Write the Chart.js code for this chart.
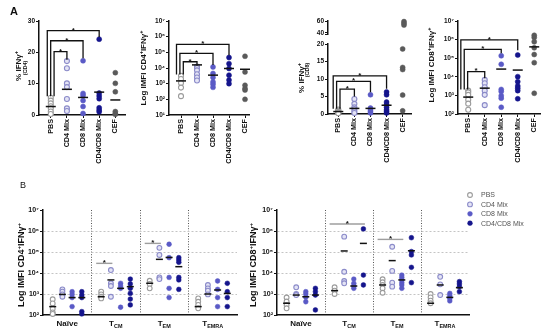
<!DOCTYPE html>
<html>
<head>
<meta charset="utf-8">
<script src="https://cdn.jsdelivr.net/npm/chart.js"></script>
<style>
html,body{margin:0;padding:0;background:#fff}
body{width:550px;height:333px;position:relative;overflow:hidden}
canvas{position:absolute;display:block}
</style>
</head>
<body>
<canvas id="cA1" width="132" height="170" style="left:0px;top:0px"></canvas>
<canvas id="cA2" width="140" height="170" style="left:132px;top:0px"></canvas>
<canvas id="cA3" width="146" height="170" style="left:272px;top:0px"></canvas>
<canvas id="cA3top" width="146" height="40" style="left:272px;top:0px"></canvas>
<canvas id="cA4" width="132" height="170" style="left:418px;top:0px"></canvas>
<canvas id="cB1" width="242" height="155" style="left:0px;top:178px"></canvas>
<canvas id="cB2" width="308" height="148" style="left:242px;top:185px"></canvas>
<script>
// ---------------- DATA ----------------
const catsA = ['PBS', 'CD4 Mix', 'CD8 Mix', 'CD4/CD8 Mix', 'CEF'];

// A1: % IFNγ+ (CD4)
const a1PBS = [5.5, 4.6, 3.7, 2.8, 2.1, 1.1, 0.3];
const a1CD4 = [17.2, 14.9, 10.1, 8.9, 5.1, 2.1, 1.3];
const a1CD8 = [17.3, 6.9, 6.2, 4.6, 2.7, 0.5];
const a1Mix = [24.2, 7.0, 6.1, 5.2, 2.3, 1.6, 1.0];
const a1CEF = [13.5, 10.1, 7.4, 1.1, 0.5, 0.2];
const a1Mean = [2.7, 8.2, 5.6, 7.3, 4.8];
const a1Ticks = [0, 10, 20, 30];
const a1TickLabels = ['0', '10', '20', '30'];
const a1Sig = [[0, 1, 20.2, 17.6], [0, 2, 23.7, 18.1], [0, 3, 26.9, 24.9]];

// A2: Log IMFI CD4+IFNγ+
const a2PBS = [3200, 2000, 1100, 560, 160];
const a2CD4 = [12600, 10000, 7100, 4000, 2500, 1600];
const a2CD8 = [11700, 4500, 2500, 1300, 930, 580];
const a2Mix = [46800, 19000, 9300, 3500, 1700, 1000];
const a2CEF = [56000, 5600, 790, 490, 390, 100];
const a2Mean = [1500, 15800, 3500, 9300, 8300];
const a2Ticks = [1e1, 1e2, 1e3, 1e4, 1e5, 1e6, 1e7];
const a2TickLabels = ['10¹', '10²', '10³', '10⁴', '10⁵', '10⁶', '10⁷'];
const a2Sig = [[0, 1, 25000, 14500], [0, 2, 87000, 15500], [0, 3, 324000, 65000]];

// A3: % IFNγ+ (CD8), broken axis
const a3PBS = [1.3, 1.0, 0.8, 0.6, 0.4, 0.2];
const a3CD4 = [4.3, 2.9, 1.9, 1.4, 0.8, 0.3];
const a3CD8 = [5.5, 1.7, 1.2, 0.75, 0.3];
const a3Mix = [6.3, 5.5, 3.4, 2.7, 1.9, 1.2, 0.75, 0.3];
const a3CEF = [59, 56, 53, 18.6, 13.3, 12.7, 5.4, 0.9];
const a3Mean = [0.7, 1.6, 1.6, 2.5, null];
const a3LowTicks = [0, 5, 10, 15, 20];
const a3LowTickLabels = ['0', '5', '10', '15', '20'];
const a3HighTicks = [37, 40, 60];
const a3HighTickLabels = ['', '40', '60'];
const a3Sig = [[0, 1, 7.1, 5.0], [0, 2, 9.3, 6.2], [0, 3, 10.9, 7.2]];

// A4: Log IMFI CD8+IFNγ+
const a4PBS = [1800, 1450, 1070, 590, 360, 170];
const a4CD4 = [6800, 4500, 2750, 1800, 1070, 300];
const a4CD8 = [135000, 47000, 2100, 1600, 950, 710, 230];
const a4Mix = [148000, 10200, 5500, 3200, 2450, 1800, 660];
const a4CEF = [1700000, 1290000, 760000, 363000, 158000, 57500, 1300];
const a4Mean = [810, 2450, 26000, 23000, 407000];
const a4Ticks = [1e2, 1e3, 1e4, 1e5, 1e6, 1e7];
const a4TickLabels = ['10²', '10³', '10⁴', '10⁵', '10⁶', '10⁷'];
const a4Sig = [[0, 1, 19000, 8300], [0, 2, 295000, 182000], [0, 3, 955000, 269000]];

// B: subsets
const bSeries = ['PBS', 'CD4 Mix', 'CD8 Mix', 'CD4/CD8 Mix'];
const bGroupLabels = [[['Naïve', '']], [['T', ''], ['CM', 'sub']], [['T', ''], ['EM', 'sub']], [['T', ''], ['EMRA', 'sub']]];
const bTicks = [1e2, 1e3, 1e4, 1e5, 1e6, 1e7];
const bTickLabels = ['10²', '10³', '10⁴', '10⁵', '10⁶', '10⁷'];

// B1: CD4
const b1PBS = [[560, 355, 200, 132, 112], [1290, 955, 740, 617], [4270, 3020, 1860], [617, 427, 302, 209]];
const b1CD4 = [[1660, 1290, 955, 740], [13800, 3240, 2400, 740], [158000, 72400, 6170, 5130], [2690, 1860, 1450, 955]];
const b1CD8 = [[1290, 955, 676, 251], [3240, 2400, 1860, 234], [234000, 53700, 6170, 1860, 676], [4170, 1660, 676, 251]];
const b1Mix = [[1290, 891, 676, 145, 112], [5130, 3020, 1860, 1070, 575, 302], [53700, 41700, 32400, 6170, 4680, 1660], [3240, 1290, 676, 251]];
const b1Means = [[251, 740, 3240, 251], [955, 4680, 44700, 1000], [676, 1860, 55000, 1550], [676, 2240, 20000, 1070]];
const b1Sig = [[1, 0, 1, 28800], [2, 0, 1, 257000]];

// B2: CD8
const b2PBS = [[676, 437, 302, 209], [2090, 1450, 1000], [5010, 3630, 2690, 1860, 1150], [1000, 692, 479, 363]];
const b2CD4 = [[2090, 1000, 891], [537000, 11500, 4170, 3240], [178000, 12600, 3470, 2240], [6610, 2880, 891]];
const b2CD8 = [[1290, 1000, 708, 427], [5130, 3240, 2400, 1860], [7940, 6170, 4680, 3470, 2690, 1860], [1070, 832, 631, 468]];
const b2Mix = [[1860, 1290, 891, 174], [1260000, 7940, 2690], [479000, 105000, 72400, 18600, 3470], [3890, 3020, 2240, 1290]];
const b2Means = [[363, 1450, 2690, 363], [891, 112000, 38900, 2690], [741, 2400, 4680, 692], [891, 257000, 115000, 2000]];
const b2Sig = [[1, 0, 3, 2140000], [2, 0, 2, 398000]];

// ---------------- STYLE / HELPERS ----------------
const FONT = '"Liberation Sans", Arial, Helvetica, sans-serif';
const INK = '#111111';
const STY = [
  {bg: '#ffffff', bd: '#9b9b9b'},
  {bg: '#e4e4f5', bd: '#8b8bc9'},
  {bg: '#5a5ac6', bd: '#5a5ac6'},
  {bg: '#15158c', bd: '#15158c'},
  {bg: '#5a5a5a', bd: '#5a5a5a'}
];
Chart.defaults.font.family = FONT;
Chart.defaults.color = INK;
Chart.defaults.animation = false;
Chart.defaults.events = [];
Chart.defaults.plugins.legend.display = false;
Chart.defaults.plugins.tooltip.enabled = false;

function pointsDS(label, pts, si, r, yID) {
  return {label, data: pts, backgroundColor: STY[si].bg, borderColor: STY[si].bd,
    borderWidth: si < 2 ? 1.1 : 0.5, pointRadius: r, pointHoverRadius: r, pointStyle: 'circle',
    showLine: false, clip: false, yAxisID: yID, order: 1};
}
function meanDS(pts, half, yID) {
  return {label: 'mean', data: pts, pointStyle: 'line', pointRadius: half, pointHoverRadius: half,
    borderColor: INK, backgroundColor: INK, borderWidth: 1.5, showLine: false, clip: false, yAxisID: yID, order: 0};
}
function colPts(vals, i) { return vals.map(v => ({x: i, y: v})); }

function drawRuns(ctx, runs, size, weight, color, align) {
  const parts = runs.map(r => {
    const t = r[0], kind = r[1] || '';
    const s = (kind === 'sup' || kind === 'sub') ? size * 0.68 : size;
    const dy = kind === 'sup' ? -size * 0.38 : (kind === 'sub' ? size * 0.24 : 0);
    ctx.font = weight + ' ' + s + 'px ' + FONT;
    return {t, s, dy, w: ctx.measureText(t).width};
  });
  const total = parts.reduce((a, p) => a + p.w, 0);
  let x = align === 'left' ? 0 : -total / 2;
  ctx.fillStyle = color; ctx.textBaseline = 'alphabetic'; ctx.textAlign = 'left';
  parts.forEach(p => {
    ctx.font = weight + ' ' + p.s + 'px ' + FONT;
    ctx.fillText(p.t, x, p.dy + size * 0.35);
    x += p.w;
  });
}
function star(ctx, x, y) {
  ctx.font = 'bold 8px ' + FONT; ctx.fillStyle = INK; ctx.textAlign = 'center'; ctx.textBaseline = 'alphabetic';
  ctx.fillText('*', x, y + 1.8);
}
function textsPlugin(items, ox, oy) {
  return {id: 'texts', afterDraw(chart) {
    const ctx = chart.ctx;
    items.forEach(it => {
      ctx.save();
      ctx.translate(it.x - ox, it.y - oy);
      if (it.rot) ctx.rotate(it.rot);
      drawRuns(ctx, it.runs, it.size, it.weight || 'bold', it.color || INK, it.align || 'center');
      ctx.restore();
    });
  }};
}
function bracketsPlugin(sig, base, yID, lead) {
  return {id: 'brackets', afterDatasetsDraw(chart) {
    const ctx = chart.ctx, xs = chart.scales.x, ys = chart.scales[yID];
    ctx.save();
    ctx.strokeStyle = INK; ctx.lineWidth = 1.3;
    sig.forEach((s, k) => {
      const x0 = xs.getPixelForValue(s[0]) + lead - 3.4 * k;
      const x1 = xs.getPixelForValue(s[1]);
      const y = ys.getPixelForValue(s[2]);
      ctx.beginPath();
      ctx.moveTo(x0, ys.getPixelForValue(base));
      ctx.lineTo(x0, y); ctx.lineTo(x1, y); ctx.lineTo(x1, ys.getPixelForValue(s[3]));
      ctx.stroke();
      star(ctx, (x0 + x1) / 2, y);
    });
    ctx.restore();
  }};
}
function sigPlugin(items) {
  return {id: 'sig', afterDatasetsDraw(chart) {
    const ctx = chart.ctx, xs = chart.scales.x, ys = chart.scales.y;
    ctx.save(); ctx.strokeStyle = '#9e9e9e'; ctx.lineWidth = 1.4;
    items.forEach(s => {
      const x0 = xs.getPixelForValue(s[0] * 5 + 1 + s[1]) - 5;
      const x1 = xs.getPixelForValue(s[0] * 5 + 1 + s[2]) + 1.5;
      const y = ys.getPixelForValue(s[3]);
      ctx.beginPath(); ctx.moveTo(x0, y); ctx.lineTo(x1, y); ctx.stroke();
      star(ctx, (x0 + x1) / 2, y);
    });
    ctx.restore();
  }};
}
function groupLabelsPlugin(labels, yPage, oy) {
  return {id: 'glabels', afterDraw(chart) {
    const ctx = chart.ctx, xs = chart.scales.x;
    labels.forEach((lab, g) => {
      ctx.save();
      ctx.translate(xs.getPixelForValue(g * 5 + 2.5), yPage - oy);
      drawRuns(ctx, lab, 8, 'bold', INK, 'center');
      ctx.restore();
    });
  }};
}
function dotLegendPlugin(xPage, yPage, dy, ox, oy) {
  return {id: 'dlegend', afterDraw(chart) {
    const ctx = chart.ctx;
    chart.data.datasets.filter(d => d.label !== 'mean').forEach((d, i) => {
      const x = xPage - ox, y = yPage - oy + i * dy;
      ctx.save();
      ctx.beginPath(); ctx.arc(x, y, 2.4, 0, Math.PI * 2);
      ctx.fillStyle = d.backgroundColor; ctx.fill();
      ctx.lineWidth = d.borderWidth; ctx.strokeStyle = d.borderColor; ctx.stroke();
      ctx.font = '7px ' + FONT; ctx.fillStyle = '#555'; ctx.textBaseline = 'middle'; ctx.textAlign = 'left';
      ctx.fillText(d.label, x + 11, y + 0.5);
      ctx.restore();
    });
  }};
}

const tickFont = s => ({family: FONT, size: s, weight: 'bold'});
const axisGrid = {display: true, drawOnChartArea: false, drawTicks: true, tickLength: 3, tickColor: INK, tickWidth: 1};
const axisBorder = {display: true, color: INK, width: 1.5};

function xScaleA(min, max, h, show) {
  if (show === false) {
    return {type: 'linear', position: 'bottom', min, max, display: false};
  }
  return {type: 'linear', position: 'bottom', min, max,
    afterBuildTicks: s => { s.ticks = catsA.map((c, i) => ({value: i})); },
    ticks: {autoSkip: false, minRotation: 90, maxRotation: 90, padding: 1, color: INK, font: tickFont(7.2),
      callback: (v, i) => catsA[i]},
    grid: axisGrid, border: axisBorder,
    afterFit: s => { s.height = h; }};
}
function yA(type, min, max, ticksArr, labels, w) {
  return {type, position: 'left', min, max,
    afterBuildTicks: s => { s.ticks = ticksArr.map(v => ({value: v})); },
    ticks: {autoSkip: false, padding: 1, color: INK, font: tickFont(6.5), callback: (v, i) => labels[i]},
    grid: axisGrid, border: axisBorder,
    afterFit: s => { s.width = w; }};
}
function baseOpts(pad, scales) {
  return {responsive: false, maintainAspectRatio: false, devicePixelRatio: 1, animation: false,
    layout: {padding: pad}, scales};
}
function seriesA(list) {
  return list.map((vals, i) => pointsDS(catsA[i], colPts(vals, i), i, 2.5, 'y'));
}
function meansA(means) {
  return meanDS(means.map((m, i) => m == null ? null : {x: i, y: m}).filter(Boolean), 5, 'y');
}
const ROT = -Math.PI / 2;

// ---------------- A1 ----------------
new Chart(document.getElementById('cA1'), {
  type: 'scatter',
  data: {datasets: [...seriesA([a1PBS, a1CD4, a1CD8, a1Mix, a1CEF]), meansA(a1Mean)]},
  options: baseOpts({top: 21, right: 7, left: 0, bottom: 0}, {
    x: xScaleA(-0.73, 4.6, 55),
    y: yA('linear', 0, 30, a1Ticks, a1TickLabels, 39)
  }),
  plugins: [bracketsPlugin(a1Sig, 6, 'y', 3.3), textsPlugin([
    {x: 10, y: 11.5, size: 11, runs: [['A']], align: 'left'},
    {x: 18, y: 66, rot: ROT, size: 8, runs: [['% IFNγ'], ['+', 'sup']]},
    {x: 25, y: 68, rot: ROT, size: 5.5, runs: [['(CD4)']]}
  ], 0, 0)]
});

// ---------------- A2 ----------------
new Chart(document.getElementById('cA2'), {
  type: 'scatter',
  data: {datasets: [...seriesA([a2PBS, a2CD4, a2CD8, a2Mix, a2CEF]), meansA(a2Mean)]},
  options: baseOpts({top: 21, right: 23, left: 0, bottom: 0}, {
    x: xScaleA(-0.75, 4.25, 55),
    y: yA('logarithmic', 10, 1e7, a2Ticks, a2TickLabels, 37)
  }),
  plugins: [bracketsPlugin(a2Sig, 3800, 'y', 2.3), textsPlugin([
    {x: 143, y: 68, rot: ROT, size: 8, runs: [['Log IMFI CD4'], ['+', 'sup'], ['IFNγ'], ['+', 'sup']]}
  ], 132, 0)]
});

// ---------------- A3 (broken axis: lower 0-20 and upper 37-60 segments) ----------------
new Chart(document.getElementById('cA3'), {
  type: 'scatter',
  data: {datasets: [
    ...seriesA([a3PBS, a3CD4, a3CD8, a3Mix, a3CEF.filter(v => v <= 20)]),
    meansA(a3Mean)
  ]},
  options: baseOpts({top: 44, right: 5, left: 0, bottom: 0}, {
    x: xScaleA(-0.64, 4.55, 56),
    y: yA('linear', 0, 20, a3LowTicks, a3LowTickLabels, 56)
  }),
  plugins: [bracketsPlugin(a3Sig, 1.5, 'y', 1.7), textsPlugin([
    {x: 301, y: 78, rot: ROT, size: 8, runs: [['% IFNγ'], ['+', 'sup']]},
    {x: 307.5, y: 70, rot: ROT, size: 5.5, runs: [['(CD8)']]}
  ], 272, 0)]
});
new Chart(document.getElementById('cA3top'), {
  type: 'scatter',
  data: {datasets: [pointsDS('CEF', colPts(a3CEF.filter(v => v >= 40), 4), 4, 2.5, 'y')]},
  options: baseOpts({top: 21, right: 5, left: 0, bottom: 5.5}, {
    x: xScaleA(-0.64, 4.55, 0, false),
    y: yA('linear', 37, 60, a3HighTicks, a3HighTickLabels, 56)
  })
});

// ---------------- A4 ----------------
new Chart(document.getElementById('cA4'), {
  type: 'scatter',
  data: {datasets: [...seriesA([a4PBS, a4CD4, a4CD8, a4Mix, a4CEF]), meansA(a4Mean)]},
  options: baseOpts({top: 21, right: 10, left: 0, bottom: 0}, {
    x: xScaleA(-0.62, 4.35, 56),
    y: yA('logarithmic', 100, 1e7, a4Ticks, a4TickLabels, 40)
  }),
  plugins: [bracketsPlugin(a4Sig, 2100, 'y', -0.6), textsPlugin([
    {x: 431, y: 65, rot: ROT, size: 8, runs: [['Log IMFI CD8'], ['+', 'sup'], ['IFNγ'], ['+', 'sup']]}
  ], 418, 0)]
});

// ---------------- B panels ----------------
function seriesB(groupsList) {
  return groupsList.map((groups, s) => pointsDS(bSeries[s],
    groups.flatMap((vals, g) => vals.map(v => ({x: g * 5 + 1 + s, y: v}))), s, 2.4, 'y'));
}
function meansB(means) {
  return meanDS(means.flatMap((row, s) => row.map((m, g) => ({x: g * 5 + 1 + s, y: m}))), 3.5, 'y');
}
function scalesB(yw) {
  return {
    x: {type: 'linear', position: 'bottom', min: 0, max: 20,
      afterBuildTicks: s => { s.ticks = [5, 10, 15].map(v => ({value: v})); },
      ticks: {display: false},
      grid: {display: true, drawOnChartArea: true, drawTicks: false, color: '#555', lineWidth: 1},
      border: {display: true, color: INK, width: 1.5, dash: [1, 1.6]},
      afterFit: s => { s.height = 18; }},
    y: {type: 'logarithmic', position: 'left', min: 100, max: 1e7,
      afterBuildTicks: s => { s.ticks = bTicks.map(v => ({value: v})); },
      ticks: {autoSkip: false, padding: 1, color: INK, font: tickFont(7), callback: (v, i) => bTickLabels[i]},
      grid: {display: true, drawOnChartArea: true, drawTicks: true, tickLength: 3, tickColor: INK, tickWidth: 1,
        lineWidth: 1, color: c => (c.tick && (c.tick.value === 100 || c.tick.value === 1e7)) ? 'rgba(0,0,0,0)' : '#c4c4c4'},
      border: {display: true, color: INK, width: 1.5, dash: [2, 2]},
      afterFit: s => { s.width = yw; }}
  };
}

new Chart(document.getElementById('cB1'), {
  type: 'scatter',
  data: {datasets: [...seriesB([b1PBS, b1CD4, b1CD8, b1Mix]), meansB(b1Means)]},
  options: baseOpts({top: 32, right: 4, left: 0, bottom: 0}, scalesB(43)),
  plugins: [sigPlugin(b1Sig), groupLabelsPlugin(bGroupLabels, 323.5, 178), textsPlugin([
    {x: 20, y: 185, size: 9, weight: 'normal', runs: [['B']], align: 'left'},
    {x: 21, y: 265, rot: ROT, size: 9, runs: [['Log IMFI CD4'], ['+', 'sup'], ['IFNγ'], ['+', 'sup']]}
  ], 0, 178)]
});

new Chart(document.getElementById('cB2'), {
  type: 'scatter',
  data: {datasets: [...seriesB([b2PBS, b2CD4, b2CD8, b2Mix]), meansB(b2Means)]},
  options: baseOpts({top: 25, right: 81, left: 0, bottom: 0}, scalesB(35)),
  plugins: [sigPlugin(b2Sig), groupLabelsPlugin(bGroupLabels, 323.5, 185), dotLegendPlugin(470, 195, 9.4, 242, 185), textsPlugin([
    {x: 253, y: 265, rot: ROT, size: 9, runs: [['Log IMFI CD8'], ['+', 'sup'], ['IFNγ'], ['+', 'sup']]}
  ], 242, 185)]
});
</script>
</body>
</html>
